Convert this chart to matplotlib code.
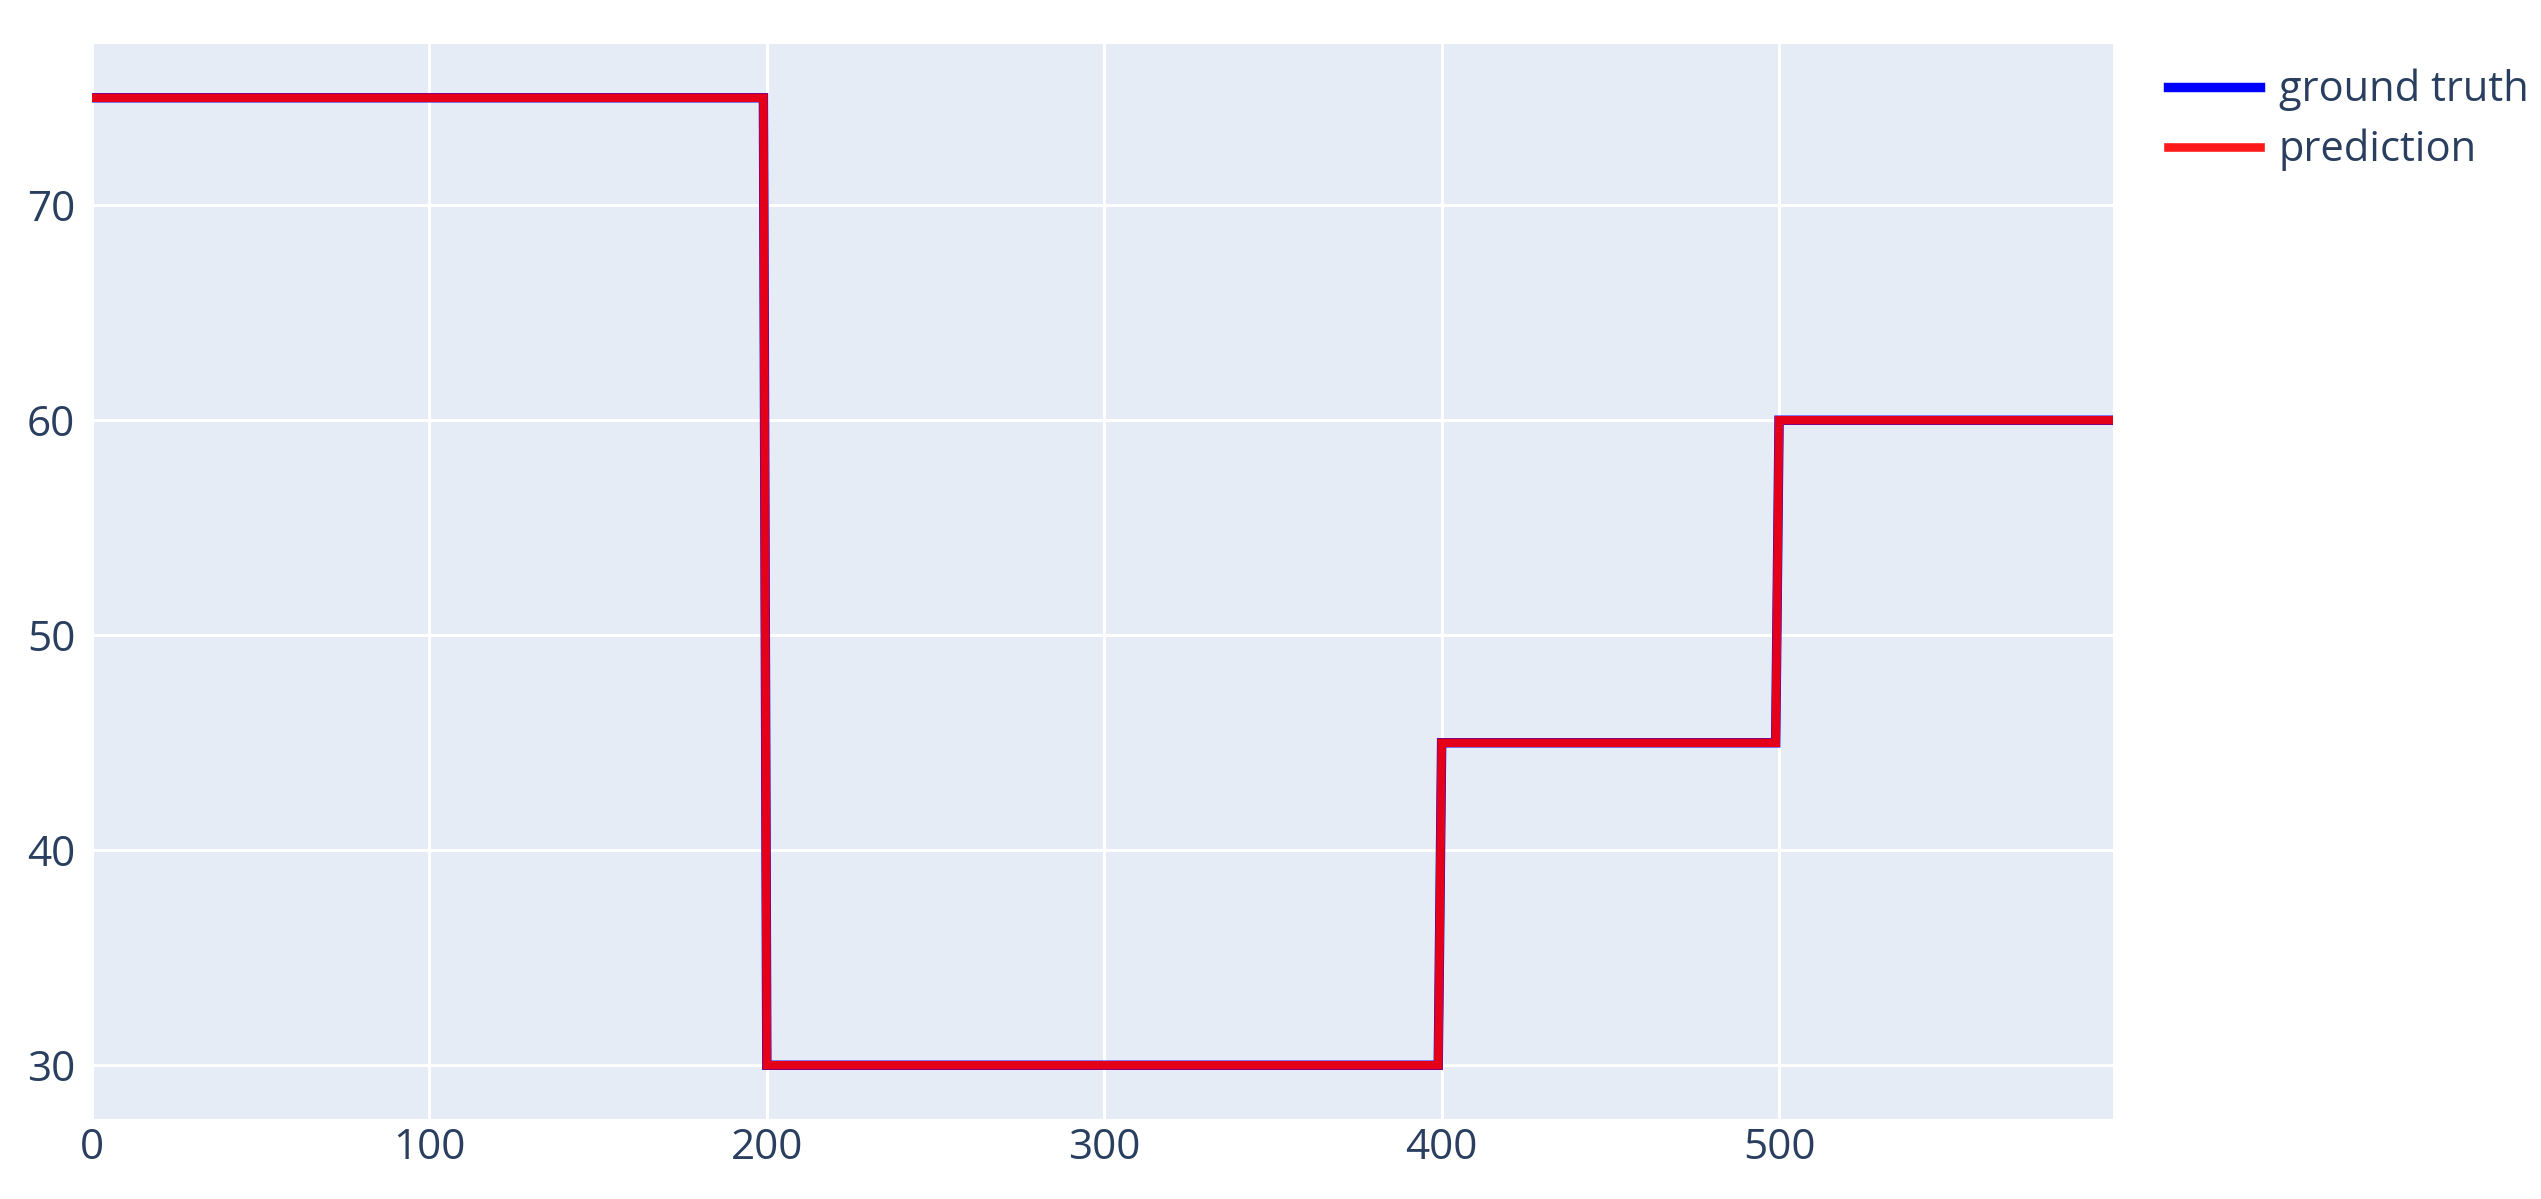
import numpy as np
import matplotlib.pyplot as plt

# change points of the step signal (x = sample index)
x_points = [0, 199, 200, 399, 400, 499, 500, 599]
ground_truth = [75, 75, 30, 30, 45, 45, 60, 60]
prediction = [75, 75, 30, 30, 45, 45, 60, 60]

x_ticks = [0, 100, 200, 300, 400, 500]
y_ticks = [30, 40, 50, 60, 70]


def draw():
    plt.rcParams["font.family"] = ["Open Sans", "DejaVu Sans"]
    text_color = "#2a3f5f"
    tick_size = 15.2
    legend_size = 15

    fig = plt.figure(figsize=(12.705, 5.995), dpi=200)
    ax = fig.add_axes([0.0362, 0.0667, 0.7954, 0.8966])
    ax.set_facecolor("#E5ECF6")

    ax.plot(x_points, ground_truth, color="#0000ff", lw=3.4, label="ground truth",
            solid_joinstyle="miter", zorder=3)
    ax.plot(x_points, prediction, color="#ff0000", lw=3.1, alpha=0.9, label="prediction",
            solid_joinstyle="miter", zorder=4)

    ax.set_xlim(0, 599)
    ax.set_ylim(27.5, 77.5)
    ax.set_xticks(x_ticks)
    ax.set_yticks(y_ticks)
    ax.grid(True, color="white", lw=1.1)
    ax.set_axisbelow(True)
    for s in ax.spines.values():
        s.set_visible(False)
    ax.tick_params(axis="both", length=0, labelsize=tick_size, labelcolor=text_color)
    ax.tick_params(axis="x", pad=3)
    ax.tick_params(axis="y", pad=6)

    leg = fig.legend(
        loc="upper left",
        bbox_to_anchor=(0.8385, 0.974),
        frameon=False,
        fontsize=legend_size,
        handlelength=2.2,
        handletextpad=0.45,
        labelspacing=0.42,
    )
    for t in leg.get_texts():
        t.set_color(text_color)

    fig.savefig("out.png", dpi=200)
    plt.close("all")


if __name__ == "__main__":
    draw()
